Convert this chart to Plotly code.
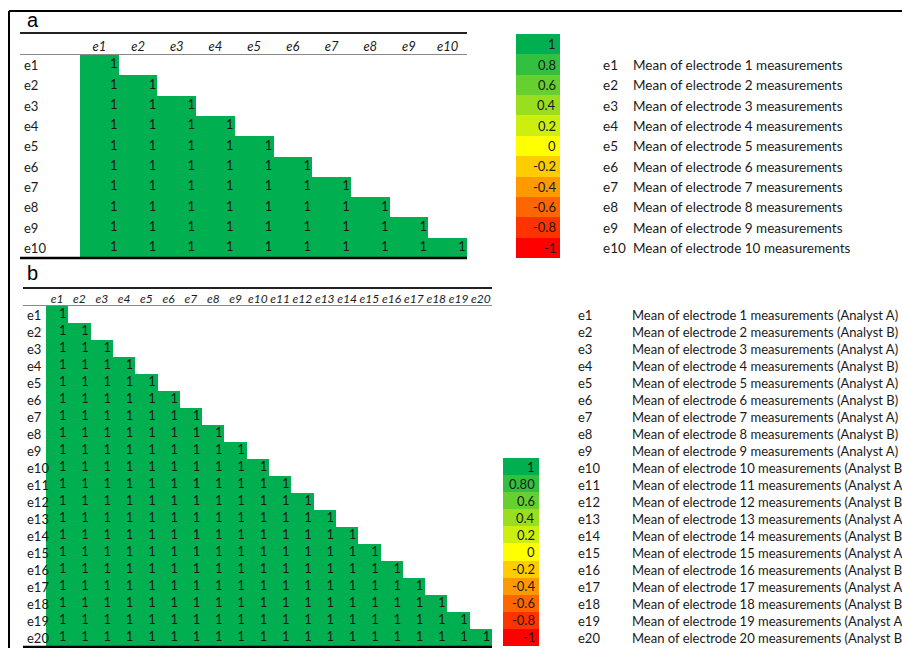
import plotly.graph_objects as go

W, H = 902, 648
FONT = "Lato"

# ---------------- data ----------------
labels_a = ["e1", "e2", "e3", "e4", "e5", "e6", "e7", "e8", "e9", "e10"]
labels_b = ["e1", "e2", "e3", "e4", "e5", "e6", "e7", "e8", "e9", "e10",
            "e11", "e12", "e13", "e14", "e15", "e16", "e17", "e18", "e19", "e20"]

# lower-triangular correlation values (row i has i+1 entries)
corr_a = [
    [1],
    [1, 1],
    [1, 1, 1],
    [1, 1, 1, 1],
    [1, 1, 1, 1, 1],
    [1, 1, 1, 1, 1, 1],
    [1, 1, 1, 1, 1, 1, 1],
    [1, 1, 1, 1, 1, 1, 1, 1],
    [1, 1, 1, 1, 1, 1, 1, 1, 1],
    [1, 1, 1, 1, 1, 1, 1, 1, 1, 1],
]
corr_b = [
    [1],
    [1, 1],
    [1, 1, 1],
    [1, 1, 1, 1],
    [1, 1, 1, 1, 1],
    [1, 1, 1, 1, 1, 1],
    [1, 1, 1, 1, 1, 1, 1],
    [1, 1, 1, 1, 1, 1, 1, 1],
    [1, 1, 1, 1, 1, 1, 1, 1, 1],
    [1, 1, 1, 1, 1, 1, 1, 1, 1, 1],
    [1, 1, 1, 1, 1, 1, 1, 1, 1, 1, 1],
    [1, 1, 1, 1, 1, 1, 1, 1, 1, 1, 1, 1],
    [1, 1, 1, 1, 1, 1, 1, 1, 1, 1, 1, 1, 1],
    [1, 1, 1, 1, 1, 1, 1, 1, 1, 1, 1, 1, 1, 1],
    [1, 1, 1, 1, 1, 1, 1, 1, 1, 1, 1, 1, 1, 1, 1],
    [1, 1, 1, 1, 1, 1, 1, 1, 1, 1, 1, 1, 1, 1, 1, 1],
    [1, 1, 1, 1, 1, 1, 1, 1, 1, 1, 1, 1, 1, 1, 1, 1, 1],
    [1, 1, 1, 1, 1, 1, 1, 1, 1, 1, 1, 1, 1, 1, 1, 1, 1, 1],
    [1, 1, 1, 1, 1, 1, 1, 1, 1, 1, 1, 1, 1, 1, 1, 1, 1, 1, 1],
    [1, 1, 1, 1, 1, 1, 1, 1, 1, 1, 1, 1, 1, 1, 1, 1, 1, 1, 1, 1],
]

desc_a = ["Mean of electrode 1 measurements", "Mean of electrode 2 measurements",
          "Mean of electrode 3 measurements", "Mean of electrode 4 measurements",
          "Mean of electrode 5 measurements", "Mean of electrode 6 measurements",
          "Mean of electrode 7 measurements", "Mean of electrode 8 measurements",
          "Mean of electrode 9 measurements", "Mean of electrode 10 measurements"]
desc_b = ["Mean of electrode 1 measurements (Analyst A)", "Mean of electrode 2 measurements (Analyst B)",
          "Mean of electrode 3 measurements (Analyst A)", "Mean of electrode 4 measurements (Analyst B)",
          "Mean of electrode 5 measurements (Analyst A)", "Mean of electrode 6 measurements (Analyst B)",
          "Mean of electrode 7 measurements (Analyst A)", "Mean of electrode 8 measurements (Analyst B)",
          "Mean of electrode 9 measurements (Analyst A)", "Mean of electrode 10 measurements (Analyst B)",
          "Mean of electrode 11 measurements (Analyst A)", "Mean of electrode 12 measurements (Analyst B)",
          "Mean of electrode 13 measurements (Analyst A)", "Mean of electrode 14 measurements (Analyst B)",
          "Mean of electrode 15 measurements (Analyst A)", "Mean of electrode 16 measurements (Analyst B)",
          "Mean of electrode 17 measurements (Analyst A)", "Mean of electrode 18 measurements (Analyst B)",
          "Mean of electrode 19 measurements (Analyst A)", "Mean of electrode 20 measurements (Analyst B)"]

scale_vals = [1, 0.8, 0.6, 0.4, 0.2, 0, -0.2, -0.4, -0.6, -0.8, -1]
scale_labels_a = ["1", "0.8", "0.6", "0.4", "0.2", "0", "-0.2", "-0.4", "-0.6", "-0.8", "-1"]
scale_labels_b = ["1", "0.80", "0.6", "0.4", "0.2", "0", "-0.2", "-0.4", "-0.6", "-0.8", "-1"]
scale_colors = ["#00B050", "#33C040", "#66D030", "#99DF20", "#CCEF10", "#FFFF00",
                "#FFCC00", "#FF9900", "#FF6600", "#FF3300", "#FF0000"]

# ---------------- helpers ----------------
def X(px):
    return px / W

def Y(py):
    return 1 - py / H

colorscale = sorted([[(v + 1) / 2, c] for v, c in zip(scale_vals, scale_colors)])

def full_matrix(rows, n):
    return [r + [None] * (n - len(r)) for r in rows]

fig = go.Figure()
TXT = "#1a1a1a"

# ---- panel a table ----
na = len(labels_a)
fig.add_trace(go.Heatmap(z=full_matrix(corr_a, na), x=list(range(na)), y=list(range(na)),
                         colorscale=colorscale, zmin=-1, zmax=1, showscale=False,
                         hoverinfo="skip", xaxis="x", yaxis="y"))
tx, ty, tt = [], [], []
for i, row in enumerate(corr_a):
    for j, v in enumerate(row):
        tx.append(j + 0.47); ty.append(i); tt.append(f"{v:g}")
fig.add_trace(go.Scatter(x=tx, y=ty, text=tt, mode="text", textposition="middle left",
                         textfont=dict(family=FONT, size=13, color=TXT),
                         hoverinfo="skip", showlegend=False, xaxis="x", yaxis="y"))

# ---- panel b table ----
nb = len(labels_b)
fig.add_trace(go.Heatmap(z=full_matrix(corr_b, nb), x=list(range(nb)), y=list(range(nb)),
                         colorscale=colorscale, zmin=-1, zmax=1, showscale=False,
                         hoverinfo="skip", xaxis="x2", yaxis="y2"))
tx, ty, tt = [], [], []
for i, row in enumerate(corr_b):
    for j, v in enumerate(row):
        tx.append(j + 0.42); ty.append(i); tt.append(f"{v:g}")
fig.add_trace(go.Scatter(x=tx, y=ty, text=tt, mode="text", textposition="middle left",
                         textfont=dict(family=FONT, size=13, color=TXT),
                         hoverinfo="skip", showlegend=False, xaxis="x2", yaxis="y2"))

# ---- colour keys ----
ns = len(scale_vals)
fig.add_trace(go.Heatmap(z=[[v] for v in scale_vals], x=[0], y=list(range(ns)),
                         colorscale=colorscale, zmin=-1, zmax=1, showscale=False,
                         hoverinfo="skip", xaxis="x3", yaxis="y3"))
fig.add_trace(go.Heatmap(z=[[v] for v in scale_vals], x=[0], y=list(range(ns)),
                         colorscale=colorscale, zmin=-1, zmax=1, showscale=False,
                         hoverinfo="skip", xaxis="x4", yaxis="y4"))

hidden = dict(showgrid=False, zeroline=False, showticklabels=False, ticks="", showline=False)
tickf_a = dict(family=FONT, size=13, color=TXT, style="italic")
tickf_b = dict(family=FONT, size=12, color=TXT, style="italic")

layout = dict(
    width=W, height=H, margin=dict(l=0, r=0, t=0, b=0),
    paper_bgcolor="white", plot_bgcolor="rgba(0,0,0,0)", showlegend=False,
    font=dict(family=FONT, color=TXT),
    xaxis=dict(domain=[X(80), X(467)], range=[-0.5, na - 0.5], anchor="y", side="top",
               tickvals=list(range(na)), ticktext=labels_a, tickfont=tickf_a, tickangle=0,
               showgrid=False, zeroline=False, ticks="", fixedrange=True),
    yaxis=dict(domain=[Y(258), Y(55)], range=[na - 0.5, -0.5], anchor="x", **hidden),
    xaxis2=dict(domain=[X(46), X(492)], range=[-0.5, nb - 0.5], anchor="y2", side="top",
                tickvals=list(range(nb)), ticktext=labels_b, tickfont=tickf_b, tickangle=0,
                showgrid=False, zeroline=False, ticks="", fixedrange=True),
    yaxis2=dict(domain=[Y(646), Y(306)], range=[nb - 0.5, -0.5], anchor="x2", **hidden),
    xaxis3=dict(domain=[X(516), X(560)], range=[-0.5, 0.5], anchor="y3", **hidden),
    yaxis3=dict(domain=[Y(258), Y(34)], range=[ns - 0.5, -0.5], anchor="x3", **hidden),
    xaxis4=dict(domain=[X(503), X(539)], range=[-0.5, 0.5], anchor="y4", **hidden),
    yaxis4=dict(domain=[Y(646), Y(458)], range=[ns - 0.5, -0.5], anchor="x4", **hidden),
)

ann = []
# panel letters
ann.append(dict(text="a", x=X(25), y=Y(20), xref="paper", yref="paper", xanchor="left",
                yanchor="middle", showarrow=False, font=dict(family="Liberation Sans", size=20, color="black")))
ann.append(dict(text="b", x=X(25), y=Y(273), xref="paper", yref="paper", xanchor="left",
                yanchor="middle", showarrow=False, font=dict(family="Liberation Sans", size=20, color="black")))
# row labels
for i, lab in enumerate(labels_a):
    ann.append(dict(text=lab, x=X(22), y=i, xref="paper", yref="y", xanchor="left",
                    showarrow=False, font=dict(family=FONT, size=13, color=TXT)))
for i, lab in enumerate(labels_b):
    ann.append(dict(text=lab, x=X(25), y=i, xref="paper", yref="y2", xanchor="left",
                    showarrow=False, font=dict(family=FONT, size=13, color=TXT)))
# descriptions
for i, (lab, d) in enumerate(zip(labels_a, desc_a)):
    ann.append(dict(text=lab, x=X(601), y=i, xref="paper", yref="y", xanchor="left",
                    showarrow=False, font=dict(family=FONT, size=13.5, color=TXT)))
    ann.append(dict(text=d, x=X(631), y=i, xref="paper", yref="y", xanchor="left",
                    showarrow=False, font=dict(family=FONT, size=13.5, color=TXT)))
for i, (lab, d) in enumerate(zip(labels_b, desc_b)):
    ann.append(dict(text=lab, x=X(576), y=i, xref="paper", yref="y2", xanchor="left",
                    showarrow=False, font=dict(family=FONT, size=13, color=TXT)))
    ann.append(dict(text=d, x=X(630), y=i, xref="paper", yref="y2", xanchor="left",
                    showarrow=False, font=dict(family=FONT, size=13, color=TXT)))
# key labels
for i, lab in enumerate(scale_labels_a):
    ann.append(dict(text=lab, x=X(558), y=i, xref="paper", yref="y3", xanchor="right",
                    showarrow=False, font=dict(family=FONT, size=13, color=TXT)))
for i, lab in enumerate(scale_labels_b):
    ann.append(dict(text=lab, x=X(537), y=i, xref="paper", yref="y4", xanchor="right",
                    showarrow=False, font=dict(family=FONT, size=13, color=TXT)))
layout["annotations"] = ann

def hline(y, x0, x1, w, c):
    return dict(type="line", xref="paper", yref="paper", x0=X(x0), x1=X(x1), y0=Y(y), y1=Y(y),
                line=dict(color=c, width=w))

shapes = [
    # outer frame
    dict(type="line", xref="paper", yref="paper", x0=X(9), x1=X(9), y0=Y(11), y1=Y(648),
         line=dict(color="black", width=2)),
    hline(11, 9, 902, 2, "black"),
    # panel a rules
    hline(33, 20, 467, 2, "#222"),
    hline(54.5, 20, 467, 1, "#888"),
    hline(258, 20, 467, 2.5, "black"),
    # panel b rules
    hline(288, 23, 492, 2, "#222"),
    hline(305.5, 23, 492, 1, "#888"),
    hline(647, 23, 492, 2.5, "black"),
]
layout["shapes"] = shapes

fig.update_layout(**layout)
fig.write_html(
    "out.html",
    config={"displayModeBar": False},
    post_script="document.body.style.margin='0';document.body.style.overflow='hidden';",
)
